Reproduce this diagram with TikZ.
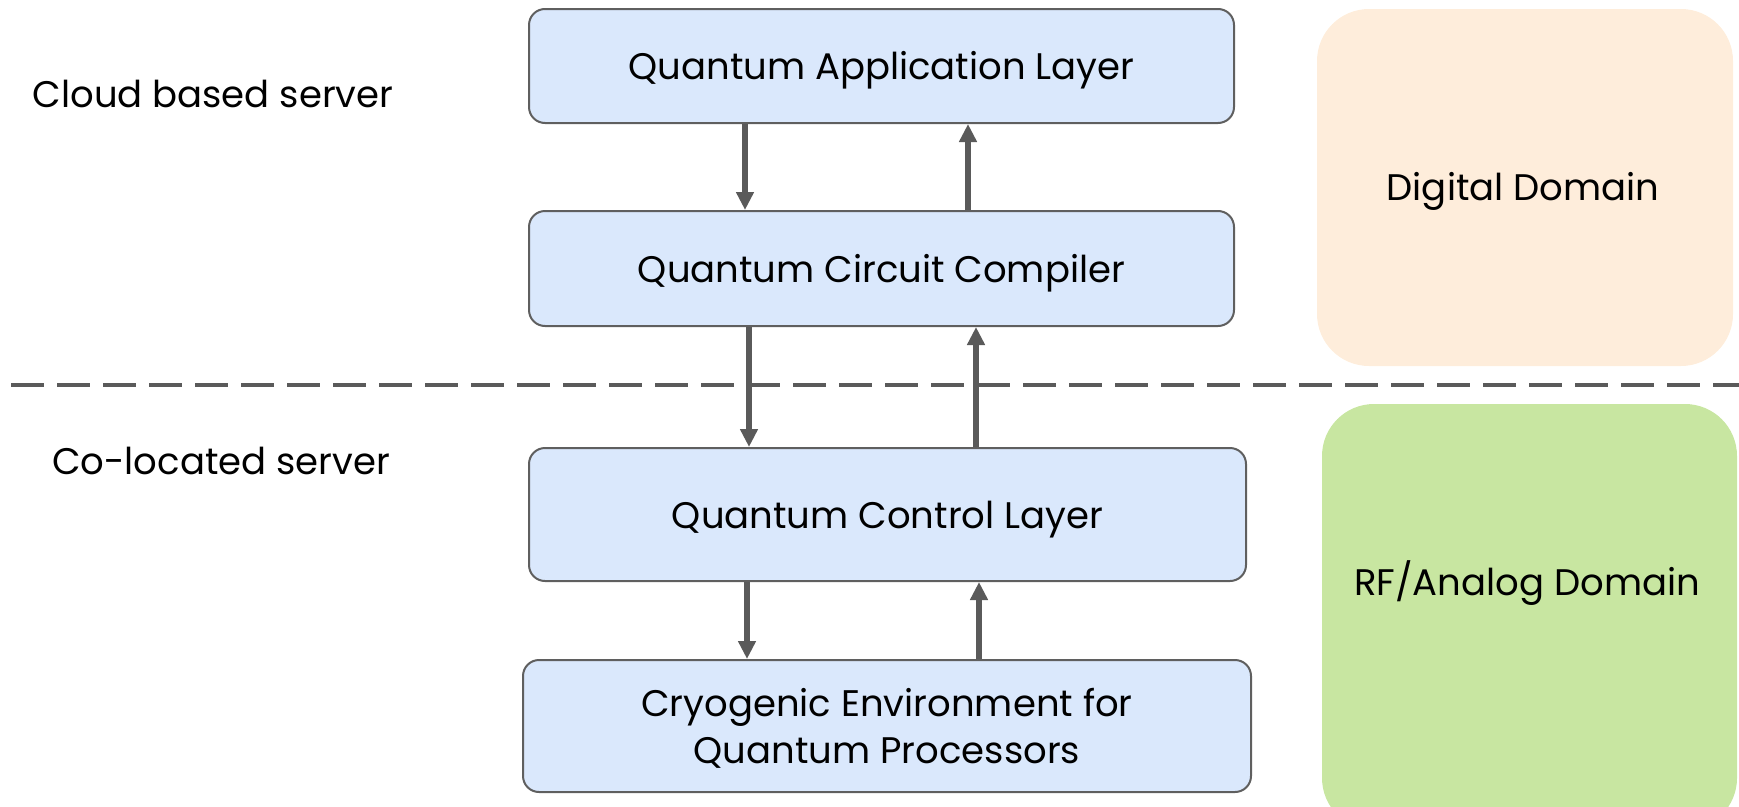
\documentclass[tikz,border=0pt]{standalone}
\usepackage{fontspec}
\setmainfont{Poppins}
\usetikzlibrary{arrows.meta}
\definecolor{layerfill}{HTML}{DAE8FC}
\definecolor{layerdraw}{HTML}{5F5F5F}
\definecolor{arrowgray}{HTML}{5A5A5A}
\definecolor{digitalfill}{HTML}{FEEDDB}
\definecolor{analogfill}{HTML}{C8E6A1}
\newcommand{\labelsize}{\fontsize{37}{47}\selectfont}
% centred text block, lowered a little inside its box
\newcommand{\layertext}[2]{\raisebox{-#1}[\height][\depth]{\begin{tabular}{@{}c@{}}#2\end{tabular}}}
\tikzset{
  layer/.style={draw=layerdraw, line width=2pt, fill=layerfill, rounded corners=16pt,
    font=\labelsize, inner sep=0pt},
  domain/.style={fill=#1, rounded corners=52pt, inner sep=0pt},
  plain/.style={font=\labelsize, inner sep=0pt},
  flow/.style={draw=arrowgray, line width=6pt, -{Triangle[length=18pt,width=17pt]}},
  divider/.style={draw=arrowgray, line width=4pt, dash pattern=on 33pt off 13pt}
}
\begin{document}
\begin{tikzpicture}[x=1pt,y=-1pt]
  \useasboundingbox (0,0) rectangle (1739,806);
  % domain panels
  \path[domain=digitalfill] (1317,9) rectangle (1733,366);
  \path[domain=analogfill] (1322,404) rectangle (1737,830);
  \node[plain] (dig) at (1523,191.5) {Digital Domain};
  \node[plain] (rf) at (1527,583) {RF/Analog Domain};
  % separation between cloud and co-located parts
  \draw[divider] (11,385) -- (1739,385);
  % server labels
  \node[plain] (cloud) at (213,94) {Cloud based server};
  \node[plain] (coloc) at (221,461) {Co-located server};
  % stack of layers
  \node[layer, minimum width=705pt, minimum height=114pt] (app) at (881.5,66)
    {\layertext{4.5pt}{Quantum Application Layer}};
  \node[layer, minimum width=705pt, minimum height=115pt] (comp) at (881.5,268.5)
    {\layertext{4.5pt}{Quantum Circuit Compiler}};
  \node[layer, minimum width=717pt, minimum height=133pt] (ctrl) at (887.5,514.5)
    {\layertext{4.5pt}{Quantum Control Layer}};
  \node[layer, minimum width=728pt, minimum height=132pt] (cryo) at (887,726)
    {\layertext{4.5pt}{Cryogenic Environment for\\Quantum Processors}};
  % control and readout paths
  \draw[flow] (app.south -| 745,0) -- (comp.north -| 745,0);
  \draw[flow] (comp.north -| 968,0) -- (app.south -| 968,0);
  \draw[flow] (comp.south -| 749,0) -- (ctrl.north -| 749,0);
  \draw[flow] (ctrl.north -| 976,0) -- (comp.south -| 976,0);
  \draw[flow] (ctrl.south -| 747,0) -- (cryo.north -| 747,0);
  \draw[flow] (cryo.north -| 979,0) -- (ctrl.south -| 979,0);
\end{tikzpicture}
\end{document}
